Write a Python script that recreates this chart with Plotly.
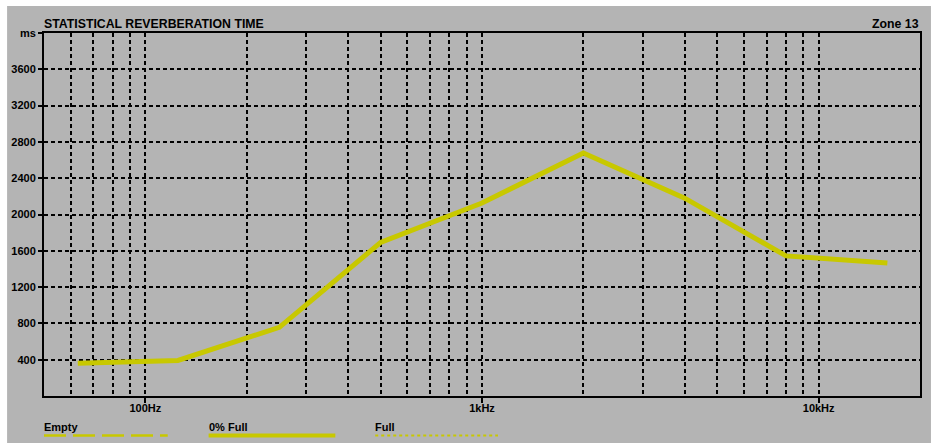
import plotly.graph_objects as go

# Octave-band statistical reverberation time, Zone 13
freqs_hz = [63, 125, 250, 500, 1000, 2000, 4000, 8000, 16000]
rt_0pct_full_ms = [362, 392, 757, 1692, 2127, 2678, 2180, 1544, 1466]

# Axis ticks
x_major_ticks = [100, 1000, 10000]
x_major_labels = ["100Hz", "1kHz", "10kHz"]
x_minor_ticks = [60, 70, 80, 90,
                 200, 300, 400, 500, 600, 700, 800, 900,
                 2000, 3000, 4000, 5000, 6000, 7000, 8000, 9000]
y_ticks = [400, 800, 1200, 1600, 2000, 2400, 2800, 3200, 3600, 4000]
y_labels = ["400", "800", "1200", "1600", "2000", "2400", "2800", "3200", "3600", "ms"]

# Legend entries
legend_names = ["Empty", "0% Full", "Full"]

TITLE = "STATISTICAL REVERBERATION TIME"
ZONE = "Zone 13"

W, H = 931, 444
ML, MR, MT, MB = 44, 9, 33, 48
PW, PH = W - ML - MR, H - MT - MB

BG = "#b4b4b4"
YEL = "#c8c800"
FONT = "Liberation Sans, Arial, sans-serif"


def px(x):
    return (x - ML) / PW


def py(y):
    return (H - MB - y) / PH


fig = go.Figure()
fig.add_trace(go.Scatter(
    x=freqs_hz, y=rt_0pct_full_ms, mode="lines", name=legend_names[1],
    line=dict(color=YEL, width=5), showlegend=False, hoverinfo="skip",
))

grid = dict(showgrid=True, gridcolor="black", gridwidth=2, griddash="4px,3px")

fig.update_xaxes(
    type="log", range=[1.69897, 4.30103],
    tickmode="array", tickvals=x_major_ticks, ticktext=x_major_labels,
    ticks="outside", ticklen=5, tickwidth=2, tickcolor="black",
    ticklabelstandoff=-4,
    showline=True, mirror=True, linecolor="black", linewidth=2,
    zeroline=False,
    tickfont=dict(family=FONT, size=11, color="black", weight="bold"),
    minor=dict(tickmode="array", tickvals=x_minor_ticks, ticks="",
               showgrid=True, gridcolor="black", gridwidth=2, griddash="4px,3px"),
    **grid,
)
fig.update_yaxes(
    range=[0, 4000],
    tickmode="array", tickvals=y_ticks, ticktext=y_labels,
    ticks="outside", ticklen=4, tickwidth=2, tickcolor="black",
    showline=True, mirror=True, linecolor="black", linewidth=2,
    zeroline=False,
    tickfont=dict(family=FONT, size=11, color="black", weight="bold"),
    **grid,
)

shapes = [
    # grey panel with a thin white border on the left/top/bottom
    dict(type="rect", xref="paper", yref="paper", layer="below",
         x0=px(7), x1=px(W + 2), y0=py(443), y1=py(6),
         fillcolor=BG, line=dict(width=0)),
]

annotations = [
    dict(text=TITLE, xref="paper", yref="paper", x=px(42), y=py(24),
         xanchor="left", yanchor="middle", showarrow=False,
         font=dict(family=FONT, size=12.3, color="black", weight="bold")),
    dict(text=ZONE, xref="paper", yref="paper", x=px(923), y=py(24),
         xanchor="right", yanchor="middle", showarrow=False,
         font=dict(family=FONT, size=12.3, color="black", weight="bold")),
]

# legend: label above a line sample
legend_x = [(44, 168), (209, 336), (376, 499)]
legend_dash = ["22px,7px", "solid", "3px,3px"]
legend_width = [2.5, 4, 2]
for name, (x0, x1), dash, lw in zip(legend_names, legend_x, legend_dash, legend_width):
    annotations.append(dict(
        text=name, xref="paper", yref="paper", x=px(x0 - 2), y=py(427),
        xanchor="left", yanchor="middle", showarrow=False,
        font=dict(family=FONT, size=11, color="black", weight="bold")))
    shapes.append(dict(
        type="line", xref="paper", yref="paper",
        x0=px(x0), x1=px(x1), y0=py(435.5), y1=py(435.5),
        line=dict(color=YEL, width=lw, dash=dash)))

fig.update_layout(
    width=W, height=H,
    margin=dict(l=ML, r=MR, t=MT, b=MB, pad=0),
    paper_bgcolor="white", plot_bgcolor=BG,
    showlegend=False,
    shapes=shapes, annotations=annotations,
    font=dict(family=FONT, color="black"),
)

fig.write_html("out.html")
